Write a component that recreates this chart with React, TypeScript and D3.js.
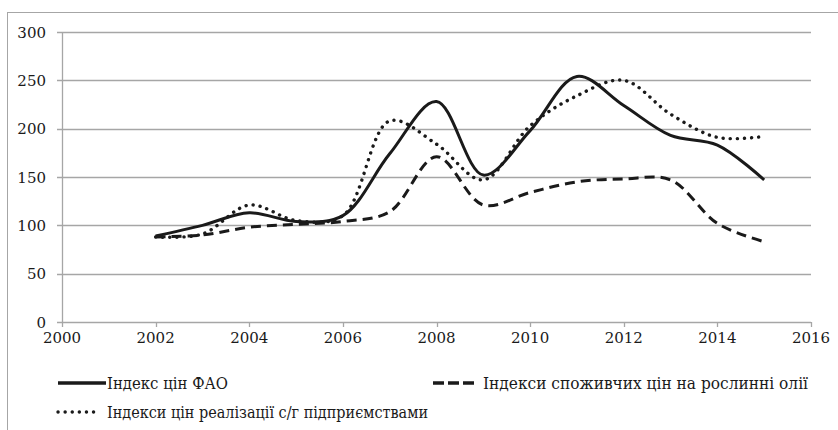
import { useEffect, useRef } from 'react';
import * as d3 from 'd3';

const years = [2002, 2003, 2004, 2005, 2006, 2007, 2008, 2009, 2010, 2011, 2012, 2013, 2014, 2015];
const faoIndex = [89, 100, 113, 104, 110, 174, 228, 152, 198, 254, 224, 193, 183, 147];
const oilCpi = [88, 90, 98, 101, 104, 114, 171, 121, 134, 145, 148, 147, 102, 83];
const farmPrices = [88, 91, 121, 105, 110, 208, 184, 147, 203, 234, 250, 215, 191, 192];
const xTicks = [2000, 2002, 2004, 2006, 2008, 2010, 2012, 2014, 2016];
const yTicks = [0, 50, 100, 150, 200, 250, 300];
const seriesNames = [
  'Індекс цін ФАО',
  'Індекси споживчих цін на рослинні олії',
  'Індекси цін реалізації с/г підприємствами',
];

const App = () => {
  const ref = useRef<SVGSVGElement>(null);

  useEffect(() => {
    const width = 838;
    const height = 430;
    const svg = d3.select(ref.current).attr('width', width).attr('height', height);
    svg.selectAll('*').remove();

    // no Times-like font here, DejaVu Serif is the only serif that resolves
    const font = 'DejaVu Serif';
    const grid = '#a6a6a6';
    const ink = '#1a1a1a';

    const x = d3.scaleLinear().domain([2000, 2016]).range([62, 811]);
    const y = d3.scaleLinear().domain([0, 300]).range([322, 32]);

    // chart frame
    svg.append('rect')
      .attr('x', 7.5).attr('y', 12.5)
      .attr('width', 840).attr('height', 430)
      .attr('fill', 'none').attr('stroke', grid);

    svg.append('g')
      .selectAll('line')
      .data(yTicks)
      .enter().append('line')
      .attr('x1', 57).attr('x2', 811)
      .attr('y1', (d) => Math.round(y(d)) + 0.5)
      .attr('y2', (d) => Math.round(y(d)) + 0.5)
      .attr('stroke', grid).attr('stroke-width', 1.3);

    svg.append('line')
      .attr('x1', 62.5).attr('x2', 62.5).attr('y1', y(300)).attr('y2', y(0))
      .attr('stroke', grid).attr('stroke-width', 1.3);

    svg.append('g')
      .selectAll('line')
      .data(xTicks)
      .enter().append('line')
      .attr('x1', (d) => Math.round(x(d)) + 0.5)
      .attr('x2', (d) => Math.round(x(d)) + 0.5)
      .attr('y1', y(0)).attr('y2', y(0) + 5)
      .attr('stroke', grid).attr('stroke-width', 1.3);

    svg.append('g')
      .selectAll('text')
      .data(yTicks)
      .enter().append('text')
      .attr('x', 46).attr('y', (d) => y(d) + 5.5)
      .attr('text-anchor', 'end')
      .attr('font-family', font).attr('font-size', 15).attr('fill', ink)
      .text((d) => d);

    svg.append('g')
      .selectAll('text')
      .data(xTicks)
      .enter().append('text')
      .attr('x', (d) => x(d)).attr('y', 343)
      .attr('text-anchor', 'middle')
      .attr('font-family', font).attr('font-size', 15).attr('fill', ink)
      .text((d) => d);

    const styles = [
      { dash: null, cap: 'butt' },
      { dash: '10 6', cap: 'butt' },
      { dash: '0.1 7', cap: 'round' },
    ];
    const allSeries = [faoIndex, oilCpi, farmPrices];

    const line = d3.line<number>()
      .x((_, i) => x(years[i]))
      .y((d) => y(d))
      .curve(d3.curveCatmullRom.alpha(0.5));

    allSeries.forEach((values, i) => {
      svg.append('path')
        .datum(values)
        .attr('d', line)
        .attr('fill', 'none')
        .attr('stroke', ink)
        .attr('stroke-width', i === 2 ? 3.4 : 3)
        .attr('stroke-linecap', styles[i].cap)
        .attr('stroke-dasharray', styles[i].dash);
    });

    const legend = [
      { x: 58, y: 383, len: 48, tx: 107, tw: 121 },
      { x: 433, y: 383, len: 42, tx: 483, tw: 325 },
      { x: 58, y: 412, len: 42, tx: 107, tw: 321 },
    ];
    legend.forEach((l, i) => {
      svg.append('line')
        .attr('x1', l.x).attr('x2', l.x + l.len)
        .attr('y1', l.y).attr('y2', l.y)
        .attr('stroke', ink)
        .attr('stroke-width', i === 2 ? 3.4 : 3.5)
        .attr('stroke-linecap', styles[i].cap)
        .attr('stroke-dasharray', i === 1 ? '11 4' : styles[i].dash);
      svg.append('text')
        .attr('x', l.tx).attr('y', l.y + 6)
        .attr('font-family', font).attr('font-size', 16.5).attr('fill', ink)
        .attr('textLength', l.tw).attr('lengthAdjust', 'spacingAndGlyphs')
        .text(seriesNames[i]);
    });
  }, []);

  return <svg ref={ref} style={{ position: 'absolute', left: 0, top: 0 }}></svg>;
};

export default App;
